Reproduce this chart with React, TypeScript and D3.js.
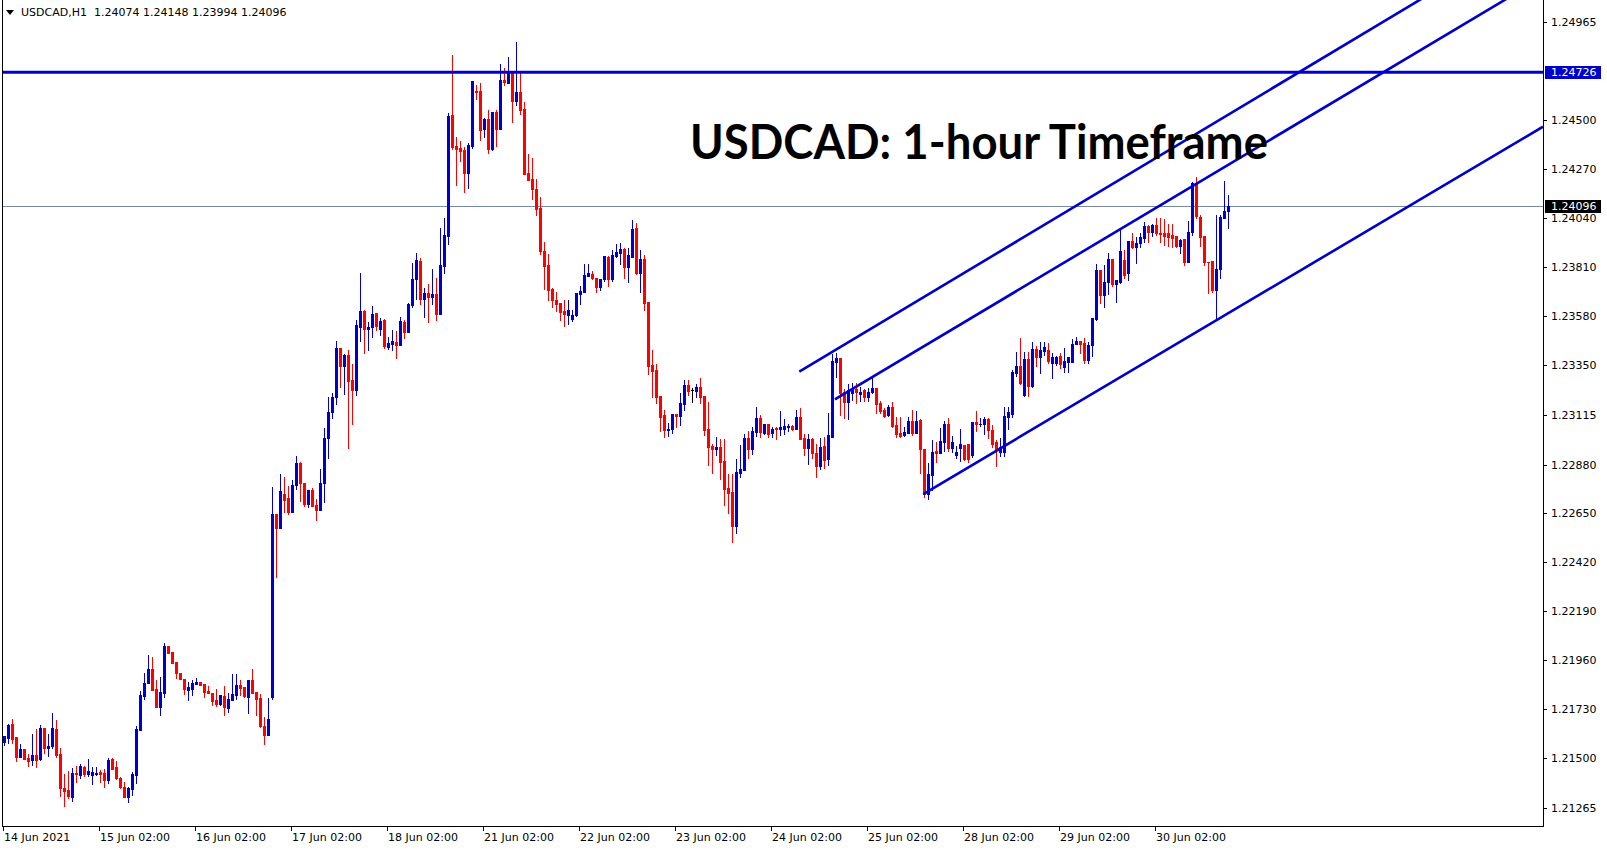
import * as d3 from "d3";

// USDCAD H1 candles, 14 Jun 02:00 -> 30 Jun
const open = [
  1.21573, 1.21595, 1.21658, 1.21597, 1.21504, 1.2154, 1.21498, 1.21489, 1.21512, 1.21493,
  1.21639, 1.21545, 1.21555, 1.21635, 1.21517, 1.2136, 1.21347, 1.21316, 1.21427, 1.2142,
  1.21457, 1.21423, 1.2142, 1.21423, 1.21432, 1.21427, 1.21396, 1.21493, 1.21456, 1.21405,
  1.21361, 1.21316, 1.21355, 1.2142, 1.21632, 1.2179, 1.2185, 1.21917, 1.21823, 1.2174,
  1.21806, 1.22026, 1.21997, 1.2195, 1.21898, 1.21869, 1.2182, 1.21825, 1.21848, 1.21856,
  1.21848, 1.21815, 1.21804, 1.21771, 1.21754, 1.2179, 1.21735, 1.21773, 1.21796, 1.21842,
  1.21832, 1.21787, 1.21865, 1.21809, 1.21781, 1.21649, 1.21608, 1.21787, 1.22649, 1.22579,
  1.22743, 1.22723, 1.22657, 1.22783, 1.22885, 1.22791, 1.22696, 1.22762, 1.22689, 1.22665,
  1.22794, 1.23007, 1.23125, 1.23199, 1.23428, 1.23345, 1.23395, 1.23277, 1.2323, 1.23528,
  1.23602, 1.23517, 1.23525, 1.23594, 1.23517, 1.2356, 1.23434, 1.23447, 1.23455, 1.23442,
  1.2355, 1.23503, 1.23629, 1.23753, 1.23838, 1.23659, 1.23685, 1.2367, 1.23682, 1.2359,
  1.23816, 1.23956, 1.24525, 1.24379, 1.24371, 1.2436, 1.24253, 1.24379, 1.24638, 1.24638,
  1.24457, 1.24504, 1.24363, 1.2454, 1.24457, 1.2469, 1.24677, 1.24734, 1.24592, 1.24633,
  1.24553, 1.2425, 1.24223, 1.24179, 1.24087, 1.23884, 1.23821, 1.23705, 1.23656, 1.23641,
  1.23602, 1.23586, 1.23564, 1.23583, 1.23682, 1.23693, 1.23766, 1.23779, 1.2376, 1.23714,
  1.23751, 1.23857, 1.23751, 1.23861, 1.23876, 1.23893, 1.2381, 1.23857, 1.23991, 1.23782,
  1.23845, 1.23646, 1.23348, 1.23325, 1.23202, 1.23113, 1.23042, 1.23047, 1.23117, 1.23108,
  1.23164, 1.23254, 1.23229, 1.23227, 1.23243, 1.23202, 1.23047, 1.22967, 1.22953, 1.22964,
  1.22896, 1.2277, 1.2275, 1.22592, 1.22841, 1.22854, 1.23003, 1.22953, 1.23034, 1.23097,
  1.23029, 1.2307, 1.23029, 1.23053, 1.23045, 1.23048, 1.23055, 1.23061, 1.23045, 1.23102,
  1.23003, 1.2296, 1.22998, 1.22935, 1.22872, 1.22967, 1.22905, 1.23011, 1.23364, 1.2338,
  1.23223, 1.23175, 1.23218, 1.23234, 1.2321, 1.2323, 1.23199, 1.23223, 1.23238, 1.23171,
  1.23136, 1.23113, 1.23149, 1.23066, 1.23029, 1.23018, 1.23029, 1.23086, 1.23029, 1.23089,
  1.22951, 1.22741, 1.2283, 1.22945, 1.22932, 1.22987, 1.2307, 1.2296, 1.22924, 1.2296,
  1.22971, 1.22979, 1.22924, 1.23078, 1.23069, 1.2307, 1.23094, 1.23042, 1.22984, 1.2294,
  1.2294, 1.23105, 1.2312, 1.23312, 1.23343, 1.23207, 1.23376, 1.23249, 1.23423, 1.23384,
  1.23416, 1.23419, 1.23359, 1.23359, 1.2339, 1.2334, 1.23364, 1.23364, 1.23445, 1.23461,
  1.2345, 1.23372, 1.23442, 1.23565, 1.23795, 1.23678, 1.23741, 1.23846, 1.23728, 1.23737,
  1.23842, 1.2378, 1.23932, 1.23905, 1.23924, 1.23948, 1.24002, 1.23976, 1.24007, 1.2397,
  1.23968, 1.23968, 1.23959, 1.23955, 1.2391, 1.23941, 1.23835, 1.23976, 1.24203, 1.24046,
  1.23957, 1.23835, 1.23838, 1.23701, 1.238, 1.24039, 1.24074,
];

const high = [
  1.21602, 1.21657, 1.21682, 1.21597, 1.21564, 1.2154, 1.2152, 1.21611, 1.21635, 1.21652,
  1.21639, 1.21614, 1.2171, 1.21677, 1.21545, 1.21424, 1.21437, 1.21451, 1.21462, 1.21473,
  1.21462, 1.21493, 1.21457, 1.21456, 1.21442, 1.21446, 1.215, 1.215, 1.21484, 1.2141,
  1.21384, 1.21363, 1.21432, 1.21649, 1.21815, 1.21897, 1.21983, 1.21974, 1.21865, 1.21881,
  1.2204, 1.22026, 1.21997, 1.2195, 1.21898, 1.21873, 1.21856, 1.21865, 1.21876, 1.21856,
  1.21848, 1.21839, 1.21804, 1.21823, 1.21796, 1.21839, 1.21803, 1.21894, 1.21894, 1.21865,
  1.21832, 1.21865, 1.21917, 1.21809, 1.218, 1.2169, 1.21781, 1.22775, 1.22649, 1.22835,
  1.22822, 1.22778, 1.22809, 1.22919, 1.22893, 1.22791, 1.22762, 1.2277, 1.2272, 1.22861,
  1.2305, 1.23199, 1.23218, 1.23461, 1.23428, 1.234, 1.23419, 1.23353, 1.2356, 1.23783,
  1.23607, 1.23552, 1.23626, 1.23594, 1.23569, 1.23566, 1.23478, 1.23513, 1.23508, 1.23576,
  1.2356, 1.23641, 1.2383, 1.23877, 1.2385, 1.23711, 1.23731, 1.238, 1.23758, 1.23993,
  1.2404, 1.24536, 1.24807, 1.2442, 1.24402, 1.24376, 1.24391, 1.24685, 1.24666, 1.24674,
  1.24509, 1.24548, 1.2454, 1.24548, 1.24765, 1.24744, 1.24796, 1.24734, 1.24868, 1.24721,
  1.24588, 1.24341, 1.24321, 1.24223, 1.2414, 1.23928, 1.23873, 1.23713, 1.23693, 1.23641,
  1.23656, 1.23653, 1.23606, 1.23685, 1.23719, 1.23823, 1.23826, 1.23792, 1.2376, 1.23755,
  1.23861, 1.23861, 1.23889, 1.23917, 1.23923, 1.23897, 1.23897, 1.2403, 1.24018, 1.23889,
  1.23865, 1.23647, 1.23419, 1.23353, 1.23202, 1.23136, 1.23077, 1.23117, 1.23117, 1.23218,
  1.23278, 1.23278, 1.23238, 1.23259, 1.23285, 1.23202, 1.23172, 1.22979, 1.23008, 1.22998,
  1.22998, 1.22835, 1.22835, 1.22904, 1.22971, 1.23026, 1.23037, 1.23058, 1.23152, 1.23113,
  1.2307, 1.2307, 1.23058, 1.23058, 1.23132, 1.23094, 1.23073, 1.23066, 1.23136, 1.23144,
  1.23023, 1.23023, 1.23007, 1.22979, 1.23007, 1.23011, 1.23121, 1.234, 1.23403, 1.2338,
  1.23234, 1.23259, 1.23265, 1.23262, 1.23246, 1.23234, 1.23238, 1.23285, 1.23238, 1.2318,
  1.23144, 1.2316, 1.23175, 1.23102, 1.23102, 1.23058, 1.23102, 1.23136, 1.23133, 1.23092,
  1.22951, 1.22885, 1.22995, 1.22987, 1.2305, 1.23086, 1.23097, 1.23014, 1.22967, 1.23045,
  1.22971, 1.22979, 1.2308, 1.23133, 1.23097, 1.23102, 1.23097, 1.23065, 1.22995, 1.23006,
  1.23152, 1.23152, 1.23325, 1.23408, 1.23477, 1.23411, 1.23411, 1.23455, 1.23439, 1.23455,
  1.23458, 1.23453, 1.23403, 1.2339, 1.23403, 1.23427, 1.23387, 1.23469, 1.23478, 1.23461,
  1.23474, 1.23458, 1.23568, 1.23822, 1.23795, 1.23819, 1.23874, 1.23846, 1.23748, 1.23984,
  1.23889, 1.23932, 1.23971, 1.23952, 1.23971, 1.24023, 1.24007, 1.2401, 1.24039, 1.24039,
  1.24034, 1.2401, 1.2401, 1.23955, 1.23941, 1.23941, 1.24026, 1.24211, 1.24235, 1.24054,
  1.23957, 1.23835, 1.23838, 1.24054, 1.24054, 1.24214, 1.24148,
];

const low = [
  1.21559, 1.2157, 1.2157, 1.21485, 1.21504, 1.21496, 1.21462, 1.21465, 1.21457, 1.21489,
  1.21523, 1.21507, 1.21548, 1.21504, 1.21321, 1.21273, 1.21311, 1.21297, 1.21387, 1.21405,
  1.21415, 1.21415, 1.21377, 1.2142, 1.21387, 1.21363, 1.21382, 1.21446, 1.21401, 1.21358,
  1.21316, 1.21292, 1.21325, 1.21382, 1.21632, 1.21777, 1.2185, 1.2182, 1.21738, 1.21702,
  1.21784, 1.21994, 1.21947, 1.21876, 1.21869, 1.218, 1.2177, 1.21796, 1.21848, 1.21844,
  1.21787, 1.21806, 1.21748, 1.21745, 1.21746, 1.21701, 1.21715, 1.21773, 1.21777, 1.21796,
  1.21785, 1.21712, 1.21804, 1.21701, 1.21646, 1.21566, 1.21608, 1.21777, 1.22351, 1.22579,
  1.22657, 1.22649, 1.22657, 1.22765, 1.22709, 1.22684, 1.22681, 1.22685, 1.22618, 1.22665,
  1.22704, 1.22913, 1.23101, 1.23167, 1.23246, 1.23211, 1.22959, 1.2307, 1.23207, 1.23462,
  1.23406, 1.23419, 1.23478, 1.23513, 1.23489, 1.2343, 1.23423, 1.23419, 1.23382, 1.23442,
  1.23477, 1.23503, 1.23623, 1.23659, 1.23635, 1.23576, 1.23552, 1.23635, 1.23561, 1.2359,
  1.23783, 1.2392, 1.24363, 1.24195, 1.2431, 1.24162, 1.24182, 1.24371, 1.246, 1.24407,
  1.24423, 1.24347, 1.2436, 1.24379, 1.24457, 1.24666, 1.24677, 1.24493, 1.24572, 1.24528,
  1.24247, 1.24219, 1.24132, 1.24054, 1.23873, 1.23704, 1.23653, 1.23622, 1.23603, 1.23559,
  1.23531, 1.2354, 1.23556, 1.2358, 1.23634, 1.23693, 1.23766, 1.23751, 1.23693, 1.237,
  1.23744, 1.23719, 1.23744, 1.23857, 1.23826, 1.2376, 1.23737, 1.23857, 1.23779, 1.23693,
  1.23606, 1.23306, 1.23199, 1.23171, 1.23037, 1.23011, 1.23015, 1.2303, 1.23055, 1.23066,
  1.23136, 1.23207, 1.23175, 1.23196, 1.23171, 1.23018, 1.22877, 1.22841, 1.22924, 1.22814,
  1.22689, 1.22653, 1.22516, 1.22558, 1.22822, 1.22854, 1.22912, 1.22929, 1.23014, 1.23011,
  1.23023, 1.23011, 1.23011, 1.22998, 1.2302, 1.23022, 1.23039, 1.23042, 1.23045, 1.22998,
  1.22924, 1.22882, 1.22909, 1.22822, 1.22861, 1.22866, 1.22877, 1.23011, 1.23293, 1.23113,
  1.23097, 1.23092, 1.23183, 1.23171, 1.23179, 1.23179, 1.23179, 1.23218, 1.23121, 1.23121,
  1.23102, 1.23108, 1.23058, 1.23011, 1.23011, 1.23014, 1.23029, 1.23018, 1.23029, 1.22841,
  1.22728, 1.2272, 1.22759, 1.22893, 1.22932, 1.22945, 1.22945, 1.2294, 1.22909, 1.22898,
  1.22901, 1.22893, 1.22916, 1.23039, 1.23061, 1.23026, 1.23006, 1.22963, 1.22874, 1.22921,
  1.22921, 1.23047, 1.23105, 1.23296, 1.23259, 1.23202, 1.23202, 1.23243, 1.23345, 1.23309,
  1.23395, 1.23356, 1.23285, 1.23348, 1.23332, 1.23314, 1.23314, 1.23364, 1.23445, 1.23403,
  1.23356, 1.23356, 1.23392, 1.2356, 1.23639, 1.23623, 1.23681, 1.23722, 1.23643, 1.23733,
  1.23756, 1.23748, 1.23897, 1.23827, 1.23905, 1.23929, 1.23929, 1.23957, 1.2396, 1.23926,
  1.23913, 1.2391, 1.23905, 1.23905, 1.23874, 1.23819, 1.23835, 1.2396, 1.24039, 1.2391,
  1.23819, 1.23686, 1.23693, 1.2356, 1.23756, 1.24039, 1.23994,
];

const close = [
  1.21602, 1.21653, 1.21589, 1.21504, 1.2154, 1.21496, 1.21485, 1.21512, 1.21489, 1.21639,
  1.21547, 1.21555, 1.21639, 1.21515, 1.21358, 1.21343, 1.21319, 1.21427, 1.21423, 1.21462,
  1.21423, 1.21437, 1.21432, 1.21427, 1.21423, 1.21396, 1.21489, 1.21449, 1.21405, 1.21363,
  1.21316, 1.21357, 1.21423, 1.21635, 1.21795, 1.21851, 1.21917, 1.2182, 1.21738, 1.21809,
  1.22026, 1.21994, 1.21947, 1.21897, 1.21869, 1.21823, 1.21832, 1.21851, 1.21858, 1.21844,
  1.2181, 1.21806, 1.21768, 1.21754, 1.21796, 1.21737, 1.21776, 1.21798, 1.21842, 1.21829,
  1.21792, 1.21865, 1.21804, 1.21777, 1.21649, 1.21608, 1.21682, 1.22649, 1.22579, 1.22754,
  1.22712, 1.22657, 1.22783, 1.22885, 1.22791, 1.22693, 1.22762, 1.22685, 1.22665, 1.22791,
  1.23007, 1.23125, 1.23199, 1.23428, 1.23345, 1.23395, 1.23274, 1.2323, 1.23536, 1.23602,
  1.23517, 1.23528, 1.23588, 1.23532, 1.23555, 1.23437, 1.2345, 1.23461, 1.23442, 1.23555,
  1.23503, 1.23635, 1.23753, 1.23842, 1.23659, 1.23685, 1.2367, 1.23682, 1.2359, 1.23819,
  1.2396, 1.2452, 1.24376, 1.24365, 1.24357, 1.24253, 1.24383, 1.24685, 1.24633, 1.24454,
  1.24506, 1.24366, 1.2454, 1.24457, 1.2469, 1.24682, 1.24734, 1.24592, 1.24633, 1.24548,
  1.24247, 1.24219, 1.24175, 1.24085, 1.23884, 1.23814, 1.237, 1.23653, 1.23634, 1.23598,
  1.23587, 1.23606, 1.23583, 1.23685, 1.23696, 1.23771, 1.23782, 1.2376, 1.23714, 1.23755,
  1.23861, 1.23751, 1.23865, 1.23881, 1.23893, 1.2381, 1.23865, 1.23988, 1.23782, 1.23845,
  1.23641, 1.23344, 1.23322, 1.23199, 1.23105, 1.23042, 1.23047, 1.23117, 1.23108, 1.23171,
  1.23254, 1.23227, 1.23229, 1.23243, 1.23199, 1.23042, 1.22964, 1.22953, 1.22964, 1.22893,
  1.22764, 1.22747, 1.22592, 1.22844, 1.22858, 1.23003, 1.22953, 1.23037, 1.23097, 1.23034,
  1.2307, 1.23026, 1.23048, 1.23045, 1.23058, 1.23061, 1.23061, 1.23045, 1.23102, 1.22998,
  1.2296, 1.22998, 1.22932, 1.22872, 1.22963, 1.22901, 1.23018, 1.23369, 1.2338, 1.23218,
  1.23175, 1.2323, 1.23234, 1.23223, 1.23223, 1.23199, 1.23223, 1.23241, 1.23164, 1.23133,
  1.23108, 1.23149, 1.23061, 1.23023, 1.23014, 1.23034, 1.23086, 1.23029, 1.23086, 1.22951,
  1.22741, 1.22835, 1.2294, 1.22932, 1.22992, 1.2307, 1.2296, 1.22987, 1.2294, 1.22979,
  1.22905, 1.22908, 1.2308, 1.2307, 1.23073, 1.23094, 1.23042, 1.22979, 1.22948, 1.22963,
  1.23108, 1.23125, 1.23315, 1.23343, 1.23265, 1.23376, 1.23249, 1.23423, 1.23384, 1.23419,
  1.23434, 1.23368, 1.23384, 1.23387, 1.23351, 1.23367, 1.23384, 1.23445, 1.23461, 1.23449,
  1.23372, 1.23442, 1.23568, 1.23795, 1.23678, 1.23741, 1.23847, 1.23728, 1.23748, 1.23885,
  1.23772, 1.23932, 1.23905, 1.23924, 1.23952, 1.24002, 1.23976, 1.24007, 1.23968, 1.23965,
  1.23957, 1.23952, 1.23948, 1.2391, 1.23937, 1.23835, 1.23976, 1.24203, 1.24051, 1.23952,
  1.23831, 1.23831, 1.23701, 1.238, 1.24046, 1.24073, 1.24096,
];

const priceTicks = [
  1.24965, 1.245, 1.2427, 1.2404, 1.2381, 1.2358, 1.2335, 1.23115,
  1.2288, 1.2265, 1.2242, 1.2219, 1.2196, 1.2173, 1.215, 1.21265,
];

const dateTickBars = [0, 24, 48, 72, 96, 120, 144, 168, 192, 216, 240, 264, 288];
const dateTickLabels = [
  "14 Jun 2021", "15 Jun 02:00", "16 Jun 02:00", "17 Jun 02:00", "18 Jun 02:00",
  "21 Jun 02:00", "22 Jun 02:00", "23 Jun 02:00", "24 Jun 02:00", "25 Jun 02:00",
  "28 Jun 02:00", "29 Jun 02:00", "30 Jun 02:00",
];

// horizontal resistance and current bid
const resistance = 1.24726;
const bid = 1.24096;

// ascending channel: two anchors per line (bar index, price), drawn as rays
const channelBarA = [198.9, 207.8, 229.9];
const channelPriceA = [1.23317, 1.23187, 1.22741];
const channelBarB = [353.95, 373.95, 384.8];
const channelPriceB = [1.25066, 1.25052, 1.2447];

const W = 1607;
const H = 850;
const plot = { left: 2, right: 1543, top: 0, bottom: 826 };

const BLUE = "#0000cd";
const RED = "#ff0000";
const AXIS_FONT = "'DejaVu Sans', sans-serif";

export default function App() {
  const n = close.length;

  // 4px per hourly bar, same as the MT4 zoom level
  const x = d3.scaleLinear().domain([0, n - 1]).range([3.7, 3.7 + 4 * (n - 1)]);
  const y = d3.scaleLinear().domain([1.21265, resistance]).range([807.7, 72.3]);

  const candles = d3.range(n).map((i) => {
    const o = open[i];
    const c = close[i];
    const cx = Math.round(x(i));
    const top = Math.round(y(Math.max(o, c)));
    const bot = Math.round(y(Math.min(o, c)));
    const hi = Math.round(y(high[i]));
    const lo = Math.round(y(low[i]));
    const color = c > o ? BLUE : c < o ? RED : "#000";
    return { i, cx, top, bot, hi, lo, color, doji: c === o };
  });

  const channel = channelBarA.map((b, k) => {
    const x1 = x(b);
    const y1 = y(channelPriceA[k]);
    const slope = (y(channelPriceB[k]) - y1) / (x(channelBarB[k]) - x1);
    return { x1, y1, x2: plot.right, y2: y1 + slope * (plot.right - x1) };
  });

  const header = `USDCAD,H1  ${open[n - 1].toFixed(5)} ${high[n - 1].toFixed(5)} ${low[n - 1].toFixed(5)} ${close[n - 1].toFixed(5)}`;

  return (
    <svg
      width={W}
      height={H}
      viewBox={`0 0 ${W} ${H}`}
      style={{ position: "absolute", left: 0, top: 0, display: "block", background: "#fff" }}
    >
      <defs>
        <clipPath id="plot-area">
          <rect x={plot.left + 1} y={plot.top} width={plot.right - plot.left - 1} height={plot.bottom - plot.top} />
        </clipPath>
      </defs>

      <rect x={0} y={0} width={W} height={H} fill="#fff" />

      <g clipPath="url(#plot-area)">
        {/* bid line */}
        <line
          x1={plot.left}
          x2={plot.right}
          y1={Math.round(y(bid)) + 0.5}
          y2={Math.round(y(bid)) + 0.5}
          stroke="#778899"
          strokeWidth={1}
        />

        {/* candles */}
        <g shapeRendering="crispEdges">
          {candles.map((d) => (
            <g key={d.i} fill={d.color}>
              <rect x={d.cx} y={d.hi} width={1} height={Math.max(1, d.lo - d.hi + 1)} />
              {d.doji ? (
                <rect x={d.cx - 1} y={d.top} width={3} height={1} />
              ) : (
                <rect x={d.cx - 1} y={d.top} width={3} height={Math.max(1, d.bot - d.top + 1)} />
              )}
            </g>
          ))}
        </g>

        {/* resistance */}
        <line
          x1={plot.left}
          x2={plot.right}
          y1={y(resistance)}
          y2={y(resistance)}
          stroke={BLUE}
          strokeWidth={3}
        />

        {/* channel */}
        {channel.map((l, k) => (
          <line key={k} x1={l.x1} y1={l.y1} x2={l.x2} y2={l.y2} stroke={BLUE} strokeWidth={2.6} />
        ))}
      </g>

      {/* frame */}
      <g stroke="#000" strokeWidth={1} shapeRendering="crispEdges">
        <line x1={plot.left + 0.5} x2={plot.left + 0.5} y1={0} y2={plot.bottom + 1} />
        <line x1={plot.right + 0.5} x2={plot.right + 0.5} y1={0} y2={plot.bottom + 1} />
        <line x1={plot.left} x2={plot.right + 1} y1={plot.bottom + 0.5} y2={plot.bottom + 0.5} />
      </g>

      {/* price axis */}
      <g fontFamily={AXIS_FONT} fontSize={11} fill="#000">
        {priceTicks.map((p) => {
          const ty = Math.round(y(p));
          return (
            <g key={p}>
              <line x1={plot.right + 1} x2={plot.right + 4} y1={ty + 0.5} y2={ty + 0.5} stroke="#000" shapeRendering="crispEdges" />
              <text x={1551} y={ty + 4}>{p.toFixed(5)}</text>
            </g>
          );
        })}
        <rect x={1545} y={Math.round(y(resistance)) - 6} width={56} height={13} fill={BLUE} />
        <text x={1551} y={Math.round(y(resistance)) + 4} fill="#fff">{resistance.toFixed(5)}</text>
        <rect x={1545} y={Math.round(y(bid)) - 6} width={56} height={13} fill="#000" />
        <text x={1551} y={Math.round(y(bid)) + 4} fill="#fff">{bid.toFixed(5)}</text>
      </g>

      {/* time axis */}
      <g fontFamily={AXIS_FONT} fontSize={11} fill="#000">
        {dateTickBars.map((b, k) => {
          const tx = Math.round(x(b));
          return (
            <g key={b}>
              <line x1={tx - 0.5} x2={tx - 0.5} y1={plot.bottom + 1} y2={plot.bottom + 5} stroke="#000" shapeRendering="crispEdges" />
              <text x={tx} y={841}>{dateTickLabels[k]}</text>
            </g>
          );
        })}
      </g>

      {/* header */}
      <polygon points="6,10 14,10 10,15" fill="#000" />
      <text x={21} y={16} fontFamily={AXIS_FONT} fontSize={11} fill="#000" style={{ whiteSpace: "pre" }}>
        {header}
      </text>

      {/* title */}
      <text
        x={690}
        y={159}
        fontFamily="Lato, 'Open Sans', sans-serif"
        fontWeight={700}
        fontSize={48}
        fill="#000"
        textLength={578}
        lengthAdjust="spacingAndGlyphs"
      >
        USDCAD: 1-hour Timeframe
      </text>
    </svg>
  );
}
